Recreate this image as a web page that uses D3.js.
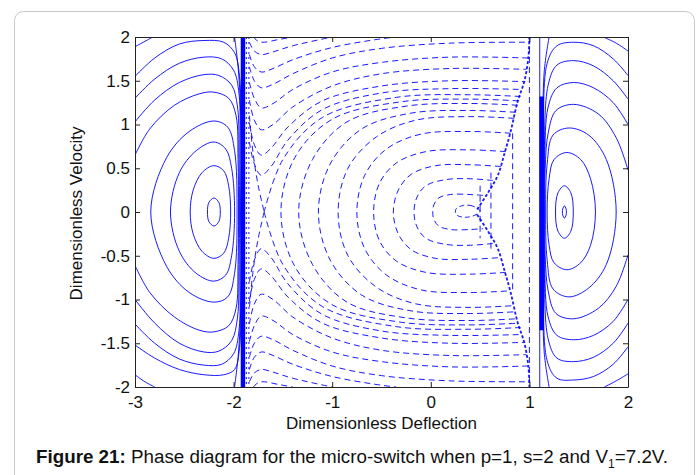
<!DOCTYPE html>
<html><head><meta charset="utf-8">
<script src="https://cdn.jsdelivr.net/npm/d3@7"></script>
<style>body{margin:0;background:#fff;}svg{display:block;font-family:Arial,"Liberation Sans",sans-serif;}</style>
</head><body><svg id="c" width="696" height="475"></svg>
<script>
// ---- axis ticks ----
const xTicks=[-3,-2,-1,0,1,2];
const xLabels=["-3","-2","-1","0","1","2"];
const yTicks=[-2,-1.5,-1,-0.5,0,0.5,1,1.5,2];
const yLabels=["-2","-1.5","-1","-0.5","0","0.5","1","1.5","2"];

// ---- left well (solid): closed orbits ----
const leftClosed=[
 [[-2.2,0.16],[-2.15,0.11],[-2.135,0],[-2.15,-0.11],[-2.2,-0.16],[-2.25,-0.11],[-2.265,0],[-2.25,0.11]],
 [[-2.2,0.53],[-2.1,0.47],[-2.05,0.3],[-2.03,0],[-2.05,-0.3],[-2.1,-0.47],[-2.2,-0.53],[-2.32,-0.45],[-2.41,-0.25],[-2.44,0],[-2.41,0.25],[-2.32,0.45]],
 [[-2.2,0.8],[-2.08,0.72],[-2.02,0.5],[-1.99,0],[-2.02,-0.5],[-2.08,-0.72],[-2.2,-0.79],[-2.38,-0.7],[-2.55,-0.45],[-2.64,0],[-2.55,0.45],[-2.38,0.7]],
 [[-2.2,1.04],[-2.06,0.97],[-1.99,0.7],[-1.965,0],[-1.99,-0.7],[-2.06,-0.97],[-2.2,-1.03],[-2.45,-0.92],[-2.68,-0.62],[-2.84,0],[-2.68,0.62],[-2.45,0.92]]
];
// ---- left well (solid): open orbits ----
const leftOpen=[
 [[-3,0.65],[-2.85,0.95],[-2.6,1.22],[-2.35,1.35],[-2.2,1.37],[-2.05,1.3],[-1.975,1.1],[-1.955,0.6],[-1.95,0],[-1.955,-0.6],[-1.975,-1.1],[-2.05,-1.3],[-2.2,-1.37],[-2.35,-1.35],[-2.6,-1.2],[-2.85,-0.92],[-3,-0.61]],
 [[-3,1.03],[-2.8,1.28],[-2.55,1.48],[-2.3,1.57],[-2.15,1.56],[-2.02,1.45],[-1.96,1.2],[-1.945,0.6],[-1.94,0],[-1.945,-0.6],[-1.96,-1.2],[-2.02,-1.47],[-2.15,-1.59],[-2.3,-1.6],[-2.55,-1.5],[-2.8,-1.27],[-3,-1.0]],
 [[-3,1.3],[-2.8,1.52],[-2.55,1.7],[-2.3,1.77],[-2.12,1.75],[-2.0,1.62],[-1.945,1.35],[-1.935,0.6],[-1.93,0],[-1.935,-0.6],[-1.945,-1.35],[-2.0,-1.62],[-2.12,-1.74],[-2.3,-1.75],[-2.55,-1.68],[-2.8,-1.5],[-3,-1.28]],
 [[-3,1.55],[-2.8,1.76],[-2.55,1.92],[-2.3,1.96],[-2.1,1.94],[-1.99,1.82],[-1.94,1.55],[-1.925,0.6],[-1.92,0],[-1.925,-0.6],[-1.94,-1.55],[-1.99,-1.8],[-2.1,-1.86],[-2.3,-1.86],[-2.55,-1.8],[-2.8,-1.67],[-3,-1.52]],
 [[-3,1.89],[-2.9,1.95],[-2.82,2.0]],
 [[-3,-1.86],[-2.9,-1.94],[-2.8,-2.0]],
 [[-1.99,2],[-1.95,1.6],[-1.918,0.8],[-1.913,0],[-1.918,-0.8],[-1.95,-1.6],[-1.99,-2]]
];
// ---- right well (solid) ----
const rightClosed=[
 [[1.355,0.07],[1.372,0.035],[1.375,0],[1.372,-0.035],[1.355,-0.07],[1.338,-0.035],[1.335,0],[1.338,0.035]],
 [[1.355,0.3],[1.42,0.22],[1.445,0],[1.42,-0.22],[1.355,-0.3],[1.29,-0.22],[1.265,0],[1.29,0.22]],
 [[1.38,0.68],[1.52,0.6],[1.62,0.38],[1.67,0],[1.62,-0.38],[1.52,-0.58],[1.38,-0.66],[1.25,-0.58],[1.2,-0.38],[1.18,0],[1.2,0.38],[1.25,0.6]],
 [[1.4,0.96],[1.6,0.88],[1.78,0.6],[1.88,0],[1.78,-0.6],[1.6,-0.87],[1.4,-0.97],[1.24,-0.88],[1.18,-0.55],[1.165,0],[1.18,0.55],[1.24,0.88]]
];
const rightOpen=[
 [[2,0.48],[1.88,0.85],[1.7,1.12],[1.45,1.23],[1.27,1.16],[1.19,0.9],[1.16,0.5],[1.155,0],[1.16,-0.5],[1.19,-0.9],[1.27,-1.16],[1.45,-1.22],[1.7,-1.1],[1.88,-0.85],[2,-0.49]],
 [[2,1.0],[1.85,1.25],[1.65,1.42],[1.45,1.48],[1.28,1.42],[1.19,1.2],[1.155,0.6],[1.15,0],[1.155,-0.6],[1.19,-1.2],[1.28,-1.41],[1.45,-1.46],[1.65,-1.41],[1.85,-1.25],[2,-1.0]],
 [[2,1.29],[1.85,1.5],[1.65,1.67],[1.45,1.73],[1.28,1.68],[1.19,1.45],[1.15,0.6],[1.145,0],[1.15,-0.6],[1.19,-1.45],[1.28,-1.67],[1.45,-1.71],[1.65,-1.66],[1.85,-1.5],[2,-1.27]],
 [[2,1.56],[1.85,1.75],[1.65,1.9],[1.45,1.94],[1.28,1.9],[1.18,1.7],[1.145,0.6],[1.14,0],[1.145,-0.6],[1.18,-1.7],[1.28,-1.9],[1.45,-1.92],[1.65,-1.88],[1.85,-1.74],[2,-1.54]],
 [[1.75,2],[1.88,1.93],[2,1.84]],
 [[1.76,-2],[1.88,-1.93],[2,-1.85]],
 [[1.2,2],[1.15,1.6],[1.135,0.6],[1.13,0],[1.135,-0.6],[1.15,-1.6],[1.2,-2]],
 [[1.105,2],[1.105,-2]]
];
// thick singular bands (solid)
const thickBands=[
 [[-1.905,2],[-1.905,-2]],
 [[1.125,1.32],[1.125,-1.35]]
];
// ---- middle well (dashed) ----
const midLoop=[[0.5,0.01],[0.42,0.07],[0.33,0.075],[0.26,0.04],[0.25,0],[0.27,-0.04],[0.35,-0.06],[0.44,-0.04]];
const midCurves=[
 [[0.53,0.19],[0.4,0.2],[0.2,0.2],[0.08,0.16],[0.03,0.08],[0.02,0],[0.03,-0.08],[0.08,-0.16],[0.2,-0.2],[0.4,-0.2],[0.53,-0.19]],
 [[0.63,0.36],[0.4,0.38],[0.15,0.37],[-0.05,0.3],[-0.14,0.17],[-0.17,0],[-0.14,-0.17],[-0.05,-0.3],[0.15,-0.37],[0.4,-0.38],[0.63,-0.36]],
 [[0.71,0.52],[0.4,0.54],[0.05,0.53],[-0.2,0.43],[-0.33,0.25],[-0.38,0],[-0.33,-0.25],[-0.2,-0.43],[0.05,-0.53],[0.4,-0.54],[0.71,-0.52]],
 [[0.76,0.69],[0.4,0.71],[-0.05,0.69],[-0.35,0.56],[-0.52,0.33],[-0.58,0],[-0.52,-0.33],[-0.35,-0.56],[-0.05,-0.69],[0.4,-0.71],[0.76,-0.69]],
 [[0.81,0.9],[0.4,0.92],[-0.1,0.89],[-0.45,0.72],[-0.67,0.42],[-0.75,0],[-0.67,-0.42],[-0.45,-0.72],[-0.1,-0.89],[0.4,-0.92],[0.81,-0.9]],
 [[0.845,1.07],[0.4,1.09],[-0.15,1.05],[-0.55,0.86],[-0.84,0.5],[-0.94,0],[-0.84,-0.5],[-0.55,-0.86],[-0.15,-1.05],[0.4,-1.09],[0.845,-1.07]],
 [[0.86,1.14],[0.4,1.16],[-0.2,1.13],[-0.7,0.95],[-1.02,0.55],[-1.14,0],[-1.02,-0.55],[-0.7,-0.95],[-0.2,-1.13],[0.4,-1.16],[0.86,-1.14]],
 [[0.88,1.22],[0.4,1.24],[-0.25,1.21],[-0.85,1.03],[-1.2,0.6],[-1.34,0],[-1.2,-0.6],[-0.85,-1.03],[-0.25,-1.21],[0.4,-1.24],[0.88,-1.22]],
 [[0.89,1.27],[0.4,1.29],[-0.3,1.26],[-1.0,1.06],[-1.38,0.62],[-1.52,0],[-1.38,-0.62],[-1.0,-1.06],[-0.3,-1.26],[0.4,-1.29],[0.89,-1.27]],
 [[0.91,1.32],[0.4,1.34],[-0.35,1.31],[-1.1,1.08],[-1.5,0.6],[-1.69,0]],
 [[-1.69,0],[-1.5,-0.6],[-1.1,-1.08],[-0.35,-1.31],[0.4,-1.34],[0.91,-1.32]],
 [[-1.84,1.1],[-1.8,0.65],[-1.75,0.3],[-1.69,0]],
 [[-1.69,0],[-1.75,-0.3],[-1.8,-0.65],[-1.84,-1.1]],
 // outer curves above the separatrix
 [[-1.84,0.8],[-1.79,0.55],[-1.72,0.42],[-1.62,0.52],[-1.45,0.82],[-1.1,1.17],[-0.5,1.36],[0.2,1.41],[0.93,1.4]],
 [[-1.84,1.02],[-1.79,0.77],[-1.72,0.65],[-1.62,0.73],[-1.45,0.97],[-1.1,1.27],[-0.5,1.44],[0.2,1.5],[0.95,1.49]],
 [[-1.84,1.28],[-1.79,1.05],[-1.72,0.94],[-1.6,1.0],[-1.4,1.2],[-1.0,1.44],[-0.5,1.58],[0.2,1.64],[0.97,1.63]],
 [[-1.84,1.48],[-1.79,1.3],[-1.72,1.19],[-1.6,1.24],[-1.4,1.4],[-1.0,1.6],[-0.5,1.71],[0.2,1.77],[0.99,1.76]],
 [[-1.84,1.66],[-1.79,1.5],[-1.72,1.42],[-1.6,1.46],[-1.4,1.58],[-1.0,1.76],[-0.5,1.87],[0.2,1.93],[1.0,1.94]],
 [[-1.84,1.8],[-1.79,1.66],[-1.72,1.6],[-1.6,1.64],[-1.4,1.74],[-1.0,1.88],[-0.5,1.98],[-0.35,2.0]],
 [[-1.84,1.94],[-1.79,1.84],[-1.72,1.8],[-1.6,1.83],[-1.4,1.9],[-1.0,2.0]],
 [[-1.8,2.0],[-1.75,1.95],[-1.69,1.94],[-1.55,1.97],[-1.4,2.0]],
 [[-1.84,-0.8],[-1.79,-0.55],[-1.72,-0.42],[-1.62,-0.52],[-1.45,-0.82],[-1.1,-1.17],[-0.5,-1.36],[0.2,-1.41],[0.93,-1.4]],
 [[-1.84,-1.02],[-1.79,-0.77],[-1.72,-0.65],[-1.62,-0.73],[-1.45,-0.97],[-1.1,-1.27],[-0.5,-1.44],[0.2,-1.5],[0.95,-1.49]],
 [[-1.84,-1.28],[-1.79,-1.05],[-1.72,-0.94],[-1.6,-1.0],[-1.4,-1.2],[-1.0,-1.44],[-0.5,-1.58],[0.2,-1.64],[0.97,-1.63]],
 [[-1.84,-1.48],[-1.79,-1.3],[-1.72,-1.19],[-1.6,-1.24],[-1.4,-1.4],[-1.0,-1.6],[-0.5,-1.71],[0.2,-1.77],[0.99,-1.76]],
 [[-1.84,-1.66],[-1.79,-1.5],[-1.72,-1.42],[-1.6,-1.46],[-1.4,-1.58],[-1.0,-1.76],[-0.5,-1.87],[0.2,-1.93],[1.0,-1.94]],
 [[-1.84,-1.8],[-1.79,-1.66],[-1.72,-1.6],[-1.6,-1.64],[-1.4,-1.74],[-1.0,-1.88],[-0.5,-1.98],[-0.35,-2.0]],
 [[-1.84,-1.94],[-1.79,-1.84],[-1.72,-1.8],[-1.6,-1.83],[-1.4,-1.9],[-1.0,-2.0]],
 [[-1.8,-2.0],[-1.75,-1.95],[-1.69,-1.94],[-1.55,-1.97],[-1.4,-2.0]],
 // vertical right sides
 [[0.5,0.3],[0.5,-0.3]],
 [[0.61,0.45],[0.61,-0.45]],
 [[0.83,0.9],[0.83,-0.9]],
 [[1.0,2],[1.0,-2]]
];
// dense corner locus and dotted strips near the bands
const denseBand=[
 [[0.47,0.03],[0.58,0.22],[0.68,0.42],[0.75,0.68],[0.81,0.92],[0.88,1.26],[0.95,1.5],[0.99,1.77],[1.0,2.0]],
 [[0.47,-0.03],[0.58,-0.22],[0.68,-0.42],[0.75,-0.68],[0.81,-0.92],[0.88,-1.26],[0.95,-1.5],[0.99,-1.77],[1.0,-2.0]]
];
const dottedStrips=[
 [[-1.87,2],[-1.87,-2]],
 [[-1.845,2],[-1.845,-2]]
];

// ---- layout ----
const svg=d3.select("#c");
const M={l:135,r:628,t:37,b:387};
const x=d3.scaleLinear().domain([-3,2]).range([M.l,M.r]);
const y=d3.scaleLinear().domain([-2,2]).range([M.b,M.t]);
const BLUE="#0000ff";

// frame
svg.append("rect").attr("x",14.5).attr("y",11.5).attr("width",680).attr("height",520)
  .attr("rx",9).attr("fill","none").attr("stroke","#c8c8c8").attr("stroke-width",1);

svg.append("defs").append("clipPath").attr("id","pc").append("rect")
  .attr("x",M.l).attr("y",M.t).attr("width",M.r-M.l).attr("height",M.b-M.t);
const g=svg.append("g").attr("clip-path","url(#pc)");

const lineOpen=d3.line().x(d=>x(d[0])).y(d=>y(d[1])).curve(d3.curveCatmullRom.alpha(0.5));
const lineClosed=d3.line().x(d=>x(d[0])).y(d=>y(d[1])).curve(d3.curveCatmullRomClosed.alpha(0.5));
const lineStraight=d3.line().x(d=>x(d[0])).y(d=>y(d[1]));

function draw(data,gen,opts){
  g.selectAll(null).data(data).enter().append("path")
   .attr("d",gen).attr("fill","none").attr("stroke",BLUE)
   .attr("stroke-width",opts.w||1).attr("stroke-dasharray",opts.dash||null)
   .attr("stroke-opacity",opts.o||0.9);
}
draw(leftClosed,lineClosed,{w:1});
draw(leftOpen,lineOpen,{w:1});
draw(rightClosed,lineClosed,{w:1});
draw(rightOpen,lineOpen,{w:1});
draw(thickBands,lineStraight,{w:4.5,o:1});
draw(midCurves,lineOpen,{w:1,dash:"6,4"});
draw([midLoop],lineClosed,{w:1,dash:"5,3"});
draw(denseBand,lineOpen,{w:1.8,dash:"3,2"});
draw(dottedStrips,lineStraight,{w:1.2,dash:"2,3",o:0.8});

// ---- axes ----
const font="17px";
const ax=svg.append("g").attr("transform",`translate(0,${M.b})`)
  .call(d3.axisBottom(x).tickValues(xTicks).tickFormat((d,i)=>xLabels[i]).tickSizeInner(-5).tickSizeOuter(0).tickPadding(9));
const ay=svg.append("g").attr("transform",`translate(${M.l},0)`)
  .call(d3.axisLeft(y).tickValues(yTicks).tickFormat((d,i)=>yLabels[i]).tickSizeInner(-5).tickSizeOuter(0).tickPadding(5));
const at=svg.append("g").attr("transform",`translate(0,${M.t})`)
  .call(d3.axisTop(x).tickValues(xTicks).tickFormat("").tickSizeInner(-5).tickSizeOuter(0));
const ar=svg.append("g").attr("transform",`translate(${M.r},0)`)
  .call(d3.axisRight(y).tickValues(yTicks).tickFormat("").tickSizeInner(-5).tickSizeOuter(0));
[ax,ay,at,ar].forEach(a=>{
  a.selectAll("text").attr("font-size",font).attr("font-family","Arial,'Liberation Sans',sans-serif").attr("fill","#111");
  a.selectAll("line").attr("stroke","#222");
  a.select(".domain").attr("stroke","#222");
});

svg.append("text").attr("x",381.5).attr("y",429).attr("text-anchor","middle")
  .attr("font-size",font).attr("fill","#111").text("Dimensionless Deflection");
svg.append("text").attr("transform","translate(82,213.5) rotate(-90)").attr("text-anchor","middle")
  .attr("font-size",font).attr("fill","#111").text("Dimensionless Velocity");

// caption
const cap=svg.append("text").attr("x",36).attr("y",463).attr("font-size","18.8px").attr("fill","#111");
cap.append("tspan").attr("font-weight","bold").text("Figure 21:");
cap.append("tspan").text(" Phase diagram for the micro-switch when p=1, s=2 and V");
cap.append("tspan").attr("font-size","12px").attr("dy",5).text("1");
cap.append("tspan").attr("dy",-5).text("=7.2V.");
</script></body></html>
